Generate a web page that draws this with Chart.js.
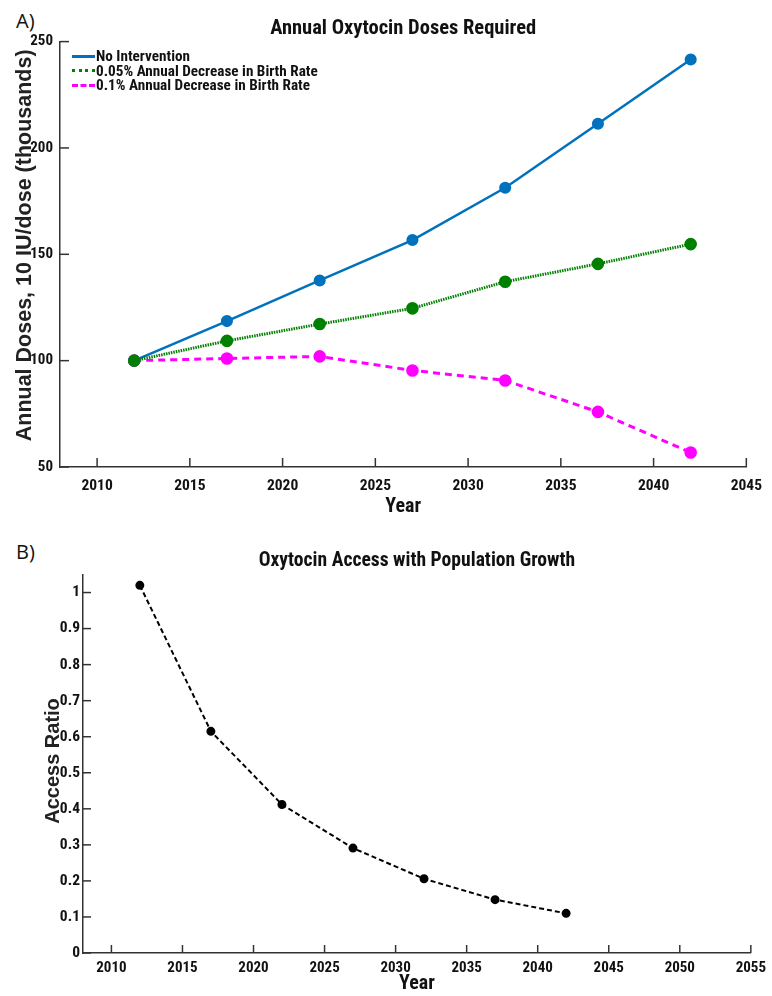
<!DOCTYPE html>
<html>
<head>
<meta charset="utf-8">
<script src="https://cdn.jsdelivr.net/npm/chart.js@4"></script>
<style>
  body { margin: 0; background: #fff; width: 772px; height: 996px; position: relative; overflow: hidden; }
  .panel { position: absolute; left: 0; }
  .tag { position: absolute; left: 16px; font: 20px "Open Sans", sans-serif; color: #111; }
  #legend { position: absolute; left: 72px; top: 49px; color: #111;
            font: bold 15.2px "Roboto Condensed", "Liberation Sans Narrow", sans-serif; }
  #legend div { height: 14.5px; line-height: 14.5px; display: flex; align-items: center; white-space: nowrap; }
  #legend span.sw { display: inline-block; width: 23px; height: 0; margin-right: 1px; }
</style>
</head>
<body>
<div class="tag" style="top:7px">A)</div>
<div class="tag" style="top:538px">B)</div>
<div class="panel" style="top:0"><canvas id="dosesChart" width="772" height="520"></canvas></div>
<div class="panel" style="top:530px"><canvas id="accessChart" width="772" height="466"></canvas></div>
<div id="legend"></div>

<script>
// data
const years = [2012, 2017, 2022, 2027, 2032, 2037, 2042];
const noIntervention = [100, 118.6, 137.7, 156.7, 181.3, 211.4, 241.6];
const decrease005 = [100, 109.3, 117.2, 124.6, 137.1, 145.5, 154.8];
const decrease01 = [100, 101.0, 102.0, 95.4, 90.7, 75.9, 56.8];
const accessRatio = [1.02, 0.615, 0.412, 0.291, 0.206, 0.148, 0.11];

const seriesLabels = ['No Intervention', '0.05% Annual Decrease in Birth Rate', '0.1% Annual Decrease in Birth Rate'];

const axisColor = '#333';
const narrow = '"Roboto Condensed", "Liberation Sans Narrow", sans-serif';
const wide = '"Liberation Sans", Arial, sans-serif';

function pts(ys) {
  return years.map((x, i) => ({ x: x, y: ys[i] }));
}

// ticks pointing into the plot, matlab style
const innerTicks = {
  id: 'innerTicks',
  afterDatasetsDraw(chart, args, opts) {
    const { ctx, chartArea: a, scales } = chart;
    const len = opts.len || 9;
    ctx.save();
    ctx.strokeStyle = axisColor;
    ctx.lineWidth = 1.5;
    scales.x.ticks.forEach(t => {
      const px = scales.x.getPixelForValue(t.value);
      ctx.beginPath(); ctx.moveTo(px, a.bottom); ctx.lineTo(px, a.bottom - len); ctx.stroke();
    });
    scales.y.ticks.forEach(t => {
      const py = scales.y.getPixelForValue(t.value);
      ctx.beginPath(); ctx.moveTo(a.left, py); ctx.lineTo(a.left + len, py); ctx.stroke();
    });
    ctx.restore();
  }
};

function xAxis(min, max, fitH, tickSize, tickPad, titlePad) {
  return {
    type: 'linear', min: min, max: max,
    grid: { display: false, drawTicks: false },
    border: { display: true, color: axisColor, width: 1.5 },
    ticks: { stepSize: 5, includeBounds: false, padding: tickPad, color: '#111', maxRotation: 0,
             font: { family: narrow, size: tickSize, weight: 'bold' }, callback: v => String(v) },
    title: { display: true, text: 'Year', color: '#111', padding: titlePad,
             font: { family: narrow, size: 20, weight: 'bold' } },
    afterFit: s => { s.height = fitH; }
  };
}

// ---- A) annual doses ----
new Chart(document.getElementById('dosesChart'), {
  type: 'line',
  data: {
    datasets: [
      { label: seriesLabels[0], data: pts(noIntervention), borderColor: '#0072BD', backgroundColor: '#0072BD',
        borderWidth: 2.5, pointRadius: 4.8, pointHoverRadius: 4.8, order: 3 },
      { label: seriesLabels[2], data: pts(decrease01), borderColor: '#FF00FF', backgroundColor: '#FF00FF',
        borderWidth: 3, borderDash: [7, 5], pointRadius: 4.8, pointHoverRadius: 4.8, order: 2 },
      { label: seriesLabels[1], data: pts(decrease005), borderColor: '#008000', backgroundColor: '#008000',
        borderWidth: 3, borderDash: [1.5, 1], pointRadius: 4.8, pointHoverRadius: 4.8, order: 1 }
    ]
  },
  options: {
    responsive: false, animation: false,
    layout: { padding: { top: 17, right: 19, left: 0, bottom: 0 } },
    plugins: {
      legend: { display: false }, tooltip: { enabled: false },
      innerTicks: { len: 9 },
      title: { display: true, text: 'Annual Oxytocin Doses Required', fullSize: false, color: '#111',
               padding: { top: 0, bottom: 0 }, font: { family: narrow, size: 20.5, weight: 'bold' } }
    },
    scales: {
      x: xAxis(2008, 2045, 53, 15.5, 10, { top: 0, bottom: 1 }),
      y: {
        min: 50, max: 250,
        grid: { display: false, drawTicks: false },
        border: { display: true, color: axisColor, width: 1.5 },
        ticks: { stepSize: 50, padding: 7, color: '#111', font: { family: narrow, size: 15, weight: 'bold' } },
        title: { display: true, text: '\u00A0\u00A0\u00A0Annual Doses, 10 IU/dose (thousands)', color: '#222',
                 padding: { top: 12 }, font: { family: wide, size: 21.5, weight: 'bold' } },
        afterFit: s => { s.width = 60; }
      }
    }
  },
  plugins: [innerTicks]
});

// legend inside plot A
const legendStyles = ['3px solid #0072BD', '3px dotted #008000', '3px dashed #FF00FF'];
document.getElementById('legend').innerHTML = seriesLabels.map((l, i) =>
  '<div><span class="sw" style="border-top:' + legendStyles[i] + '"></span>' + l + '</div>').join('');

// ---- B) access ratio ----
new Chart(document.getElementById('accessChart'), {
  type: 'line',
  data: {
    datasets: [
      { label: 'Access Ratio', data: pts(accessRatio), borderColor: '#000', backgroundColor: '#000',
        borderWidth: 2, borderDash: [5, 3], pointRadius: 3.5, pointHoverRadius: 3.5 }
    ]
  },
  options: {
    responsive: false, animation: false,
    layout: { padding: { top: 19, right: 14, left: 0, bottom: 0 } },
    plugins: {
      legend: { display: false }, tooltip: { enabled: false },
      innerTicks: { len: 8 },
      title: { display: true, text: 'Oxytocin Access with Population Growth', fullSize: false, color: '#111',
               padding: { top: 0, bottom: 2 }, font: { family: narrow, size: 19.6, weight: 'bold' } }
    },
    scales: {
      x: xAxis(2008, 2055, 43, 15, 6, { top: 0, bottom: 0 }),
      y: {
        min: 0, max: 1.05,
        grid: { display: false, drawTicks: false },
        border: { display: true, color: axisColor, width: 1.5 },
        ticks: { stepSize: 0.1, includeBounds: false, padding: 3, color: '#111',
                 font: { family: narrow, size: 15.5, weight: 'bold' }, callback: v => String(Math.round(v * 10) / 10) },
        title: { display: true, text: '\u00A0Access Ratio', color: '#222', padding: { top: 41 },
                 font: { family: wide, size: 20, weight: 'bold' } },
        afterFit: s => { s.width = 83; }
      }
    }
  },
  plugins: [innerTicks]
});
</script>
</body>
</html>
